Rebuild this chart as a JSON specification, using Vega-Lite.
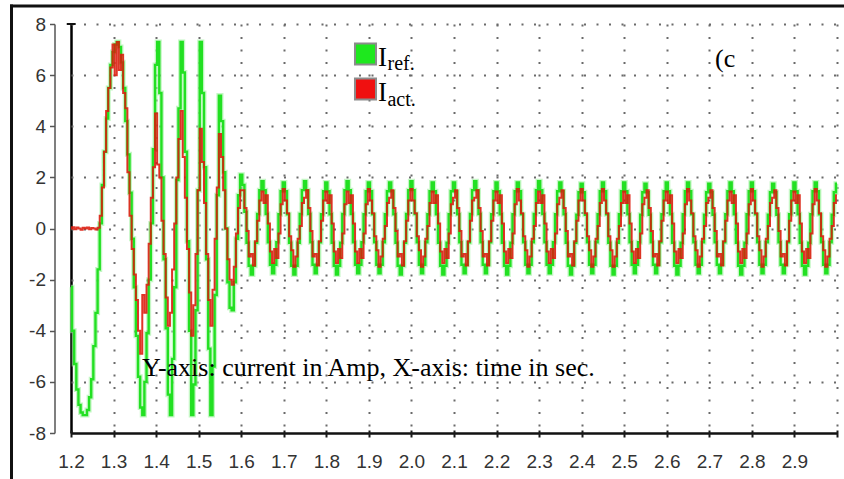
{
  "$schema": "https://vega.github.io/schema/vega-lite/v6.json",
  "width": 766,
  "height": 409,
  "autosize": {"type": "none"},
  "padding": {"left": 71, "top": 24, "right": 7, "bottom": 46},
  "background": "white",
  "config": {"view": {"stroke": null}},
  "datasets": {
    "wave": [
      {"t":1.2,"ref":-2.3,"act":0},{"t":1.205,"ref":-4.0,"act":0.05},{"t":1.21,"ref":-5.3,"act":-0.03},{"t":1.215,"ref":-6.3,"act":0.04},
      {"t":1.22,"ref":-6.9,"act":0},{"t":1.225,"ref":-7.2,"act":-0.05},{"t":1.23,"ref":-7.3,"act":0.03},{"t":1.235,"ref":-7.3,"act":0},
      {"t":1.24,"ref":-7.1,"act":0.04},{"t":1.245,"ref":-6.6,"act":-0.03},{"t":1.25,"ref":-5.9,"act":0.02},{"t":1.255,"ref":-4.6,"act":0},
      {"t":1.26,"ref":-3.3,"act":-0.04},{"t":1.265,"ref":-1.6,"act":0.03},{"t":1.27,"ref":0.2,"act":0.5},{"t":1.275,"ref":1.7,"act":1.6},
      {"t":1.28,"ref":3.0,"act":3.0},{"t":1.285,"ref":4.3,"act":4.6},{"t":1.29,"ref":5.5,"act":5.5},{"t":1.295,"ref":6.4,"act":6.3},
      {"t":1.3,"ref":6.9,"act":7.2},{"t":1.305,"ref":7.2,"act":6.0},{"t":1.31,"ref":7.3,"act":7.3},{"t":1.315,"ref":7.1,"act":6.2},
      {"t":1.32,"ref":6.5,"act":6.8},{"t":1.325,"ref":5.5,"act":5.3},{"t":1.33,"ref":4.2,"act":4.7},{"t":1.335,"ref":2.9,"act":2.2},
      {"t":1.34,"ref":1.4,"act":0.5},{"t":1.345,"ref":-0.4,"act":-0.8},{"t":1.35,"ref":-2.3,"act":-1.8},{"t":1.355,"ref":-4.2,"act":-2.8},
      {"t":1.36,"ref":-5.8,"act":-4.0},{"t":1.365,"ref":-7.0,"act":-4.9},{"t":1.37,"ref":-7.3,"act":-2.6},{"t":1.375,"ref":-6.0,"act":-3.3},
      {"t":1.38,"ref":-4.1,"act":-2.2},{"t":1.385,"ref":-2.0,"act":-0.6},{"t":1.39,"ref":0.2,"act":1.2},{"t":1.395,"ref":3.1,"act":2.4},
      {"t":1.4,"ref":6.4,"act":4.5},{"t":1.405,"ref":7.3,"act":2.5},{"t":1.41,"ref":5.3,"act":2.0},{"t":1.415,"ref":2.0,"act":0.3},
      {"t":1.42,"ref":-1.2,"act":-1.0},{"t":1.425,"ref":-3.9,"act":-2.7},{"t":1.43,"ref":-6.5,"act":-3.8},{"t":1.435,"ref":-7.3,"act":-3.3},
      {"t":1.44,"ref":-5.1,"act":-1.6},{"t":1.445,"ref":-2.3,"act":0.2},{"t":1.45,"ref":1.9,"act":2.0},{"t":1.455,"ref":4.7,"act":3.5},
      {"t":1.46,"ref":7.3,"act":4.6},{"t":1.465,"ref":6.1,"act":2.8},{"t":1.47,"ref":3.0,"act":1.2},{"t":1.475,"ref":-0.5,"act":-0.8},
      {"t":1.48,"ref":-4.0,"act":-2.5},{"t":1.485,"ref":-7.3,"act":-4.2},{"t":1.49,"ref":-6.1,"act":-3.0},{"t":1.495,"ref":-3.2,"act":-1.0},
      {"t":1.5,"ref":1.5,"act":1.5},{"t":1.505,"ref":7.3,"act":3.9},{"t":1.51,"ref":5.3,"act":2.6},{"t":1.515,"ref":2.4,"act":1.0},
      {"t":1.52,"ref":-1.2,"act":-1.0},{"t":1.525,"ref":-4.7,"act":-2.8},{"t":1.53,"ref":-7.3,"act":-3.8},{"t":1.535,"ref":-5.4,"act":-2.4},
      {"t":1.54,"ref":-2.6,"act":-0.4},{"t":1.545,"ref":1.3,"act":1.6},{"t":1.55,"ref":5.2,"act":3.7},{"t":1.555,"ref":4.2,"act":2.8},
      {"t":1.56,"ref":2.2,"act":1.5},{"t":1.565,"ref":0.0,"act":0.0},{"t":1.57,"ref":-2.1,"act":-1.2},{"t":1.575,"ref":-3.1,"act":-2.0},
      {"t":1.58,"ref":-3.2,"act":-2.2},{"t":1.585,"ref":-2.1,"act":-1.5},{"t":1.59,"ref":-0.4,"act":-0.2},{"t":1.595,"ref":1.3,"act":0.8},
      {"t":1.6,"ref":2.1,"act":1.5},
      {"t":1.605,"ref":1.7,"act":1.5},{"t":1.61,"ref":0.65,"act":0.8},{"t":1.615,"ref":-0.56,"act":-0.1},{"t":1.62,"ref":-1.46,"act":-1.1},{"t":1.625,"ref":-1.8,"act":-1.0},
      {"t":1.63,"ref":-1.46,"act":-1.45},{"t":1.635,"ref":-0.56,"act":-0.5},{"t":1.64,"ref":0.57,"act":0.3},{"t":1.645,"ref":1.5,"act":1.1},
      {"t":1.65,"ref":1.85,"act":1.45},{"t":1.655,"ref":1.5,"act":1.0},{"t":1.66,"ref":0.57,"act":1.3},{"t":1.665,"ref":-0.54,"act":0.2},{"t":1.67,"ref":-1.42,"act":-0.9},
      {"t":1.675,"ref":-1.75,"act":-1.35},{"t":1.68,"ref":-1.42,"act":-0.8},{"t":1.685,"ref":-0.54,"act":-1.15},{"t":1.69,"ref":0.56,"act":-0.2},{"t":1.695,"ref":1.46,"act":0.95},
      {"t":1.7,"ref":1.8,"act":1.55},{"t":1.705,"ref":1.46,"act":1.1},{"t":1.71,"ref":0.56,"act":0.6},{"t":1.715,"ref":-0.56,"act":-0.3},{"t":1.72,"ref":-1.46,"act":-0.85},
      {"t":1.725,"ref":-1.8,"act":-1.5},{"t":1.73,"ref":-1.46,"act":-1.1},{"t":1.735,"ref":-0.56,"act":-0.4},{"t":1.74,"ref":0.57,"act":0.1},{"t":1.745,"ref":1.5,"act":1.0},
      {"t":1.75,"ref":1.85,"act":1.2},{"t":1.755,"ref":1.5,"act":1.5},{"t":1.76,"ref":0.57,"act":0.8},{"t":1.765,"ref":-0.54,"act":-0.1},{"t":1.77,"ref":-1.42,"act":-1.1},
      {"t":1.775,"ref":-1.75,"act":-1.0},{"t":1.78,"ref":-1.42,"act":-1.45},{"t":1.785,"ref":-0.54,"act":-0.5},{"t":1.79,"ref":0.56,"act":0.3},{"t":1.795,"ref":1.46,"act":1.1},
      {"t":1.8,"ref":1.8,"act":1.45},{"t":1.805,"ref":1.46,"act":1.0},{"t":1.81,"ref":0.56,"act":1.3},{"t":1.815,"ref":-0.56,"act":0.2},{"t":1.82,"ref":-1.46,"act":-0.9},
      {"t":1.825,"ref":-1.8,"act":-1.35},{"t":1.83,"ref":-1.46,"act":-0.8},{"t":1.835,"ref":-0.56,"act":-1.15},{"t":1.84,"ref":0.57,"act":-0.2},{"t":1.845,"ref":1.5,"act":0.95},
      {"t":1.85,"ref":1.85,"act":1.45},{"t":1.855,"ref":1.5,"act":1.0},{"t":1.86,"ref":0.57,"act":1.3},{"t":1.865,"ref":-0.54,"act":0.2},{"t":1.87,"ref":-1.42,"act":-0.9},
      {"t":1.875,"ref":-1.75,"act":-1.35},{"t":1.88,"ref":-1.42,"act":-0.8},{"t":1.885,"ref":-0.54,"act":-1.15},{"t":1.89,"ref":0.56,"act":-0.2},{"t":1.895,"ref":1.46,"act":0.95},
      {"t":1.9,"ref":1.8,"act":1.55},{"t":1.905,"ref":1.46,"act":1.1},{"t":1.91,"ref":0.56,"act":0.6},{"t":1.915,"ref":-0.54,"act":-0.3},{"t":1.92,"ref":-1.42,"act":-0.85},
      {"t":1.925,"ref":-1.75,"act":-1.5},{"t":1.93,"ref":-1.42,"act":-1.1},{"t":1.935,"ref":-0.54,"act":-0.4},{"t":1.94,"ref":0.56,"act":0.1},{"t":1.945,"ref":1.46,"act":1.0},
      {"t":1.95,"ref":1.8,"act":1.2},{"t":1.955,"ref":1.46,"act":1.5},{"t":1.96,"ref":0.56,"act":0.8},{"t":1.965,"ref":-0.56,"act":-0.1},{"t":1.97,"ref":-1.46,"act":-1.1},
      {"t":1.975,"ref":-1.8,"act":-1.0},{"t":1.98,"ref":-1.46,"act":-1.45},{"t":1.985,"ref":-0.56,"act":-0.5},{"t":1.99,"ref":0.57,"act":0.3},{"t":1.995,"ref":1.5,"act":1.1},
      {"t":2.0,"ref":1.85,"act":1.55},{"t":2.005,"ref":1.5,"act":1.1},{"t":2.01,"ref":0.57,"act":0.6},{"t":2.015,"ref":-0.54,"act":-0.3},{"t":2.02,"ref":-1.42,"act":-0.85},
      {"t":2.025,"ref":-1.75,"act":-1.5},{"t":2.03,"ref":-1.42,"act":-1.1},{"t":2.035,"ref":-0.54,"act":-0.4},{"t":2.04,"ref":0.56,"act":0.1},{"t":2.045,"ref":1.46,"act":1.0},
      {"t":2.05,"ref":1.8,"act":1.45},{"t":2.055,"ref":1.46,"act":1.0},{"t":2.06,"ref":0.56,"act":1.3},{"t":2.065,"ref":-0.56,"act":0.2},{"t":2.07,"ref":-1.46,"act":-0.9},
      {"t":2.075,"ref":-1.8,"act":-1.35},{"t":2.08,"ref":-1.46,"act":-0.8},{"t":2.085,"ref":-0.56,"act":-1.15},{"t":2.09,"ref":0.56,"act":-0.2},{"t":2.095,"ref":1.46,"act":0.95},
      {"t":2.1,"ref":1.8,"act":1.2},{"t":2.105,"ref":1.46,"act":1.5},{"t":2.11,"ref":0.56,"act":0.8},{"t":2.115,"ref":-0.54,"act":-0.1},{"t":2.12,"ref":-1.42,"act":-1.1},
      {"t":2.125,"ref":-1.75,"act":-1.0},{"t":2.13,"ref":-1.42,"act":-1.45},{"t":2.135,"ref":-0.54,"act":-0.5},{"t":2.14,"ref":0.57,"act":0.3},{"t":2.145,"ref":1.5,"act":1.1},
      {"t":2.15,"ref":1.85,"act":1.2},{"t":2.155,"ref":1.5,"act":1.5},{"t":2.16,"ref":0.57,"act":0.8},{"t":2.165,"ref":-0.54,"act":-0.1},{"t":2.17,"ref":-1.42,"act":-1.1},
      {"t":2.175,"ref":-1.75,"act":-1.0},{"t":2.18,"ref":-1.42,"act":-1.45},{"t":2.185,"ref":-0.54,"act":-0.5},{"t":2.19,"ref":0.56,"act":0.3},{"t":2.195,"ref":1.46,"act":1.1},
      {"t":2.2,"ref":1.8,"act":1.45},{"t":2.205,"ref":1.46,"act":1.0},{"t":2.21,"ref":0.56,"act":1.3},{"t":2.215,"ref":-0.56,"act":0.2},{"t":2.22,"ref":-1.46,"act":-0.9},
      {"t":2.225,"ref":-1.8,"act":-1.35},{"t":2.23,"ref":-1.46,"act":-0.8},{"t":2.235,"ref":-0.56,"act":-1.15},{"t":2.24,"ref":0.56,"act":-0.2},{"t":2.245,"ref":1.46,"act":0.95},
      {"t":2.25,"ref":1.8,"act":1.55},{"t":2.255,"ref":1.46,"act":1.1},{"t":2.26,"ref":0.56,"act":0.6},{"t":2.265,"ref":-0.54,"act":-0.3},{"t":2.27,"ref":-1.42,"act":-0.85},
      {"t":2.275,"ref":-1.75,"act":-1.5},{"t":2.28,"ref":-1.42,"act":-1.1},{"t":2.285,"ref":-0.54,"act":-0.4},{"t":2.29,"ref":0.57,"act":0.1},{"t":2.295,"ref":1.5,"act":1.0},
      {"t":2.3,"ref":1.85,"act":1.45},{"t":2.305,"ref":1.5,"act":1.0},{"t":2.31,"ref":0.57,"act":1.3},{"t":2.315,"ref":-0.54,"act":0.2},{"t":2.32,"ref":-1.42,"act":-0.9},
      {"t":2.325,"ref":-1.75,"act":-1.35},{"t":2.33,"ref":-1.42,"act":-0.8},{"t":2.335,"ref":-0.54,"act":-1.15},{"t":2.34,"ref":0.56,"act":-0.2},{"t":2.345,"ref":1.46,"act":0.95},
      {"t":2.35,"ref":1.8,"act":1.2},{"t":2.355,"ref":1.46,"act":1.5},{"t":2.36,"ref":0.56,"act":0.8},{"t":2.365,"ref":-0.56,"act":-0.1},{"t":2.37,"ref":-1.46,"act":-1.1},
      {"t":2.375,"ref":-1.8,"act":-1.0},{"t":2.38,"ref":-1.46,"act":-1.45},{"t":2.385,"ref":-0.56,"act":-0.5},{"t":2.39,"ref":0.54,"act":0.3},{"t":2.395,"ref":1.42,"act":1.1},
      {"t":2.4,"ref":1.75,"act":1.55},{"t":2.405,"ref":1.42,"act":1.1},{"t":2.41,"ref":0.54,"act":0.6},{"t":2.415,"ref":-0.54,"act":-0.3},{"t":2.42,"ref":-1.42,"act":-0.85},
      {"t":2.425,"ref":-1.75,"act":-1.5},{"t":2.43,"ref":-1.42,"act":-1.1},{"t":2.435,"ref":-0.54,"act":-0.4},{"t":2.44,"ref":0.56,"act":0.1},{"t":2.445,"ref":1.46,"act":1.0},
      {"t":2.45,"ref":1.8,"act":1.55},{"t":2.455,"ref":1.46,"act":1.1},{"t":2.46,"ref":0.56,"act":0.6},{"t":2.465,"ref":-0.56,"act":-0.3},{"t":2.47,"ref":-1.46,"act":-0.85},
      {"t":2.475,"ref":-1.8,"act":-1.5},{"t":2.48,"ref":-1.46,"act":-1.1},{"t":2.485,"ref":-0.56,"act":-0.4},{"t":2.49,"ref":0.56,"act":0.1},{"t":2.495,"ref":1.46,"act":1.0},
      {"t":2.5,"ref":1.8,"act":1.45},{"t":2.505,"ref":1.46,"act":1.0},{"t":2.51,"ref":0.56,"act":1.3},{"t":2.515,"ref":-0.54,"act":0.2},{"t":2.52,"ref":-1.42,"act":-0.9},
      {"t":2.525,"ref":-1.75,"act":-1.35},{"t":2.53,"ref":-1.42,"act":-0.8},{"t":2.535,"ref":-0.54,"act":-1.15},{"t":2.54,"ref":0.54,"act":-0.2},{"t":2.545,"ref":1.42,"act":0.95},
      {"t":2.55,"ref":1.75,"act":1.2},{"t":2.555,"ref":1.42,"act":1.5},{"t":2.56,"ref":0.54,"act":0.8},{"t":2.565,"ref":-0.54,"act":-0.1},{"t":2.57,"ref":-1.42,"act":-1.1},
      {"t":2.575,"ref":-1.75,"act":-1.0},{"t":2.58,"ref":-1.42,"act":-1.45},{"t":2.585,"ref":-0.54,"act":-0.5},{"t":2.59,"ref":0.56,"act":0.3},{"t":2.595,"ref":1.46,"act":1.1},
      {"t":2.6,"ref":1.8,"act":1.45},{"t":2.605,"ref":1.46,"act":1.0},{"t":2.61,"ref":0.56,"act":1.3},{"t":2.615,"ref":-0.56,"act":0.2},{"t":2.62,"ref":-1.46,"act":-0.9},
      {"t":2.625,"ref":-1.8,"act":-1.35},{"t":2.63,"ref":-1.46,"act":-0.8},{"t":2.635,"ref":-0.56,"act":-1.15},{"t":2.64,"ref":0.56,"act":-0.2},{"t":2.645,"ref":1.46,"act":0.95},
      {"t":2.65,"ref":1.8,"act":1.55},{"t":2.655,"ref":1.46,"act":1.1},{"t":2.66,"ref":0.56,"act":0.6},{"t":2.665,"ref":-0.54,"act":-0.3},{"t":2.67,"ref":-1.42,"act":-0.85},
      {"t":2.675,"ref":-1.75,"act":-1.5},{"t":2.68,"ref":-1.42,"act":-1.1},{"t":2.685,"ref":-0.54,"act":-0.4},{"t":2.69,"ref":0.54,"act":0.1},{"t":2.695,"ref":1.42,"act":1.0},
      {"t":2.7,"ref":1.75,"act":1.2},{"t":2.705,"ref":1.42,"act":1.5},{"t":2.71,"ref":0.54,"act":0.8},{"t":2.715,"ref":-0.54,"act":-0.1},{"t":2.72,"ref":-1.42,"act":-1.1},
      {"t":2.725,"ref":-1.75,"act":-1.0},{"t":2.73,"ref":-1.42,"act":-1.45},{"t":2.735,"ref":-0.54,"act":-0.5},{"t":2.74,"ref":0.56,"act":0.3},{"t":2.745,"ref":1.46,"act":1.1},
      {"t":2.75,"ref":1.8,"act":1.45},{"t":2.755,"ref":1.46,"act":1.0},{"t":2.76,"ref":0.56,"act":1.3},{"t":2.765,"ref":-0.56,"act":0.2},{"t":2.77,"ref":-1.46,"act":-0.9},
      {"t":2.775,"ref":-1.8,"act":-1.35},{"t":2.78,"ref":-1.46,"act":-0.8},{"t":2.785,"ref":-0.56,"act":-1.15},{"t":2.79,"ref":0.56,"act":-0.2},{"t":2.795,"ref":1.46,"act":0.95},
      {"t":2.8,"ref":1.8,"act":1.55},{"t":2.805,"ref":1.46,"act":1.1},{"t":2.81,"ref":0.56,"act":0.6},{"t":2.815,"ref":-0.54,"act":-0.3},{"t":2.82,"ref":-1.42,"act":-0.85},
      {"t":2.825,"ref":-1.75,"act":-1.5},{"t":2.83,"ref":-1.42,"act":-1.1},{"t":2.835,"ref":-0.54,"act":-0.4},{"t":2.84,"ref":0.54,"act":0.1},{"t":2.845,"ref":1.42,"act":1.0},
      {"t":2.85,"ref":1.75,"act":1.2},{"t":2.855,"ref":1.42,"act":1.5},{"t":2.86,"ref":0.54,"act":0.8},{"t":2.865,"ref":-0.54,"act":-0.1},{"t":2.87,"ref":-1.42,"act":-1.1},
      {"t":2.875,"ref":-1.75,"act":-1.0},{"t":2.88,"ref":-1.42,"act":-1.45},{"t":2.885,"ref":-0.54,"act":-0.5},{"t":2.89,"ref":0.56,"act":0.3},{"t":2.895,"ref":1.46,"act":1.1},
      {"t":2.9,"ref":1.8,"act":1.45},{"t":2.905,"ref":1.46,"act":1.0},{"t":2.91,"ref":0.56,"act":1.3},{"t":2.915,"ref":-0.56,"act":0.2},{"t":2.92,"ref":-1.46,"act":-0.9},
      {"t":2.925,"ref":-1.8,"act":-1.35},{"t":2.93,"ref":-1.46,"act":-0.8},{"t":2.935,"ref":-0.56,"act":-1.15},{"t":2.94,"ref":0.56,"act":-0.2},{"t":2.945,"ref":1.46,"act":0.95},
      {"t":2.95,"ref":1.8,"act":1.55},{"t":2.955,"ref":1.46,"act":1.1},{"t":2.96,"ref":0.56,"act":0.6},{"t":2.965,"ref":-0.54,"act":-0.3},{"t":2.97,"ref":-1.42,"act":-0.85},
      {"t":2.975,"ref":-1.75,"act":-1.5},{"t":2.98,"ref":-1.42,"act":-1.1},{"t":2.985,"ref":-0.54,"act":-0.4},{"t":2.99,"ref":0.54,"act":0.1},{"t":2.995,"ref":1.42,"act":1.0},
      {"t":3.0,"ref":1.75,"act":1.3}
    ]
  },
  "layer": [
    {
      "data": {"name": "wave"},
      "mark": {"type": "line", "interpolate": "step", "color": "#9cf29c", "strokeWidth": 5, "opacity": 0.6},
      "encoding": {
        "x": {
          "field": "t", "type": "quantitative",
          "scale": {"domain": [1.2, 3.0], "nice": false, "zero": false},
          "axis": {
            "title": null,
            "values": [1.2,1.25,1.3,1.35,1.4,1.45,1.5,1.55,1.6,1.65,1.7,1.75,1.8,1.85,1.9,1.95,2.0,2.05,2.1,2.15,2.2,2.25,2.3,2.35,2.4,2.45,2.5,2.55,2.6,2.65,2.7,2.75,2.8,2.85,2.9,2.95,3.0],
            "domain": false,
            "offset": -3,
            "tickSize": 7,
            "tickWidth": 2,
            "tickColor": "#1a1a1a",
            "labelExpr": "round(datum.value * 20) % 2 === 0 && datum.value < 2.95 ? format(datum.value, '.1f') : ''",
            "labelFont": "Liberation Sans",
            "labelFontSize": 19,
            "labelColor": "#333333",
            "labelPadding": 15,
            "labelOverlap": false,
            "labelFlush": false,
            "labelBound": false,
            "grid": true,
            "gridColor": {"condition": {"test": "datum.value === 1.2", "value": "#000000"}, "value": "#6a6a6a"},
            "gridDash": {"condition": {"test": "datum.value === 1.2", "value": []}, "value": [2, 10.5]},
            "gridWidth": {"condition": {"test": "datum.value === 1.2", "value": 2.5}, "value": 2},
            "gridOpacity": {"condition": {"test": "round(datum.value * 20) % 2 === 1", "value": 0}, "value": 1}
          }
        },
        "y": {
          "field": "ref", "type": "quantitative",
          "scale": {"domain": [-8, 8], "nice": false, "zero": false},
          "axis": {
            "title": null,
            "values": [-8,-7,-6,-5,-4,-3,-2,-1,0,1,2,3,4,5,6,7,8],
            "domain": true,
            "domainColor": "#555555",
            "domainWidth": 1.5,
            "offset": 16.5,
            "tickSize": 5,
            "tickWidth": 1.5,
            "tickColor": "#555555",
            "labelExpr": "datum.value % 2 === 0 ? '' + datum.value : ''",
            "labelFont": "Liberation Sans",
            "labelFontSize": 19,
            "labelColor": "#333333",
            "labelPadding": 4,
            "labelOverlap": false,
            "labelBound": false,
            "grid": true,
            "gridColor": {"condition": {"test": "datum.value === -8", "value": "#111111"}, "value": "#6a6a6a"},
            "gridDash": {"condition": {"test": "datum.value === -8", "value": []}, "value": [2, 10.5]},
            "gridWidth": {"condition": {"test": "datum.value === -8", "value": 2.5}, "value": 2},
            "gridOpacity": {"condition": {"test": "datum.value % 2 !== 0", "value": 0}, "value": 1}
          }
        }
      }
    },
    {
      "data": {"name": "wave"},
      "mark": {"type": "line", "interpolate": "step", "color": "#22e022", "strokeWidth": 2.4},
      "encoding": {
        "x": {"field": "t", "type": "quantitative", "axis": {"title": null}},
        "y": {"field": "ref", "type": "quantitative", "axis": {"title": null}}
      }
    },
    {
      "data": {"name": "wave"},
      "mark": {"type": "line", "interpolate": "step", "color": "#dc180a", "strokeWidth": 2, "opacity": 0.88},
      "encoding": {
        "x": {"field": "t", "type": "quantitative", "axis": {"title": null}},
        "y": {"field": "act", "type": "quantitative", "axis": {"title": null}}
      }
    },
    {
      "data": {"values": [{}]},
      "mark": {"type": "rule", "color": "#111111", "strokeWidth": 2},
      "encoding": {
        "x": {"datum": 1.19, "type": "quantitative", "axis": {"title": null}},
        "x2": {"datum": 1.211},
        "y": {"datum": 8, "type": "quantitative", "axis": {"title": null}}
      }
    },
    {
      "data": {"values": [{}]},
      "mark": {"type": "rule", "color": "#111111", "strokeWidth": 3, "strokeCap": "square"},
      "encoding": {
        "x": {"datum": 1.0602, "type": "quantitative", "axis": {"title": null}},
        "y": {"datum": 8.704, "type": "quantitative", "axis": {"title": null}},
        "y2": {"datum": -10}
      }
    },
    {
      "data": {"values": [{}]},
      "mark": {"type": "rule", "color": "#111111", "strokeWidth": 3, "strokeCap": "square"},
      "encoding": {
        "x": {"datum": 1.0602, "type": "quantitative", "axis": {"title": null}},
        "x2": {"datum": 3.1},
        "y": {"datum": 8.704, "type": "quantitative", "axis": {"title": null}}
      }
    },
    {
      "data": {"values": [{}]},
      "mark": {"type": "point", "shape": "square", "filled": true, "size": 441, "color": "#1ee81e", "stroke": "#8c8c8c", "strokeWidth": 2, "opacity": 1},
      "encoding": {
        "x": {"datum": 1.892, "type": "quantitative", "axis": {"title": null}},
        "y": {"datum": 6.826, "type": "quantitative", "axis": {"title": null}}
      }
    },
    {
      "data": {"values": [{}]},
      "mark": {"type": "point", "shape": "square", "filled": true, "size": 441, "color": "#f01010", "stroke": "#8c8c8c", "strokeWidth": 2, "opacity": 1},
      "encoding": {
        "x": {"datum": 1.892, "type": "quantitative", "axis": {"title": null}},
        "y": {"datum": 5.457, "type": "quantitative", "axis": {"title": null}}
      }
    },
    {
      "data": {"values": [{}]},
      "mark": {"type": "text", "text": "I", "font": "Liberation Serif", "fontSize": 27, "align": "left", "baseline": "alphabetic", "color": "#000000"},
      "encoding": {
        "x": {"datum": 1.9214, "type": "quantitative", "axis": {"title": null}},
        "y": {"datum": 6.3765, "type": "quantitative", "axis": {"title": null}}
      }
    },
    {
      "data": {"values": [{}]},
      "mark": {"type": "text", "text": "ref.", "font": "Liberation Serif", "fontSize": 20, "align": "left", "baseline": "alphabetic", "color": "#000000"},
      "encoding": {
        "x": {"datum": 1.9437, "type": "quantitative", "axis": {"title": null}},
        "y": {"datum": 6.181, "type": "quantitative", "axis": {"title": null}}
      }
    },
    {
      "data": {"values": [{}]},
      "mark": {"type": "text", "text": "I", "font": "Liberation Serif", "fontSize": 27, "align": "left", "baseline": "alphabetic", "color": "#000000"},
      "encoding": {
        "x": {"datum": 1.9214, "type": "quantitative", "axis": {"title": null}},
        "y": {"datum": 5.0073, "type": "quantitative", "axis": {"title": null}}
      }
    },
    {
      "data": {"values": [{}]},
      "mark": {"type": "text", "text": "act.", "font": "Liberation Serif", "fontSize": 20, "align": "left", "baseline": "alphabetic", "color": "#000000"},
      "encoding": {
        "x": {"datum": 1.9437, "type": "quantitative", "axis": {"title": null}},
        "y": {"datum": 4.804, "type": "quantitative", "axis": {"title": null}}
      }
    },
    {
      "data": {"values": [{}]},
      "mark": {"type": "text", "text": "(c", "font": "Liberation Serif", "fontSize": 26, "align": "left", "baseline": "alphabetic", "color": "#000000"},
      "encoding": {
        "x": {"datum": 2.7133, "type": "quantitative", "axis": {"title": null}},
        "y": {"datum": 6.337, "type": "quantitative", "axis": {"title": null}}
      }
    },
    {
      "data": {"values": [{}]},
      "mark": {"type": "text", "text": "Y-axis: current in Amp, X-axis: time in sec.", "font": "Liberation Serif", "fontSize": 26, "align": "left", "baseline": "alphabetic", "color": "#000000"},
      "encoding": {
        "x": {"datum": 1.3668, "type": "quantitative", "axis": {"title": null}},
        "y": {"datum": -5.759, "type": "quantitative", "axis": {"title": null}}
      }
    }
  ]
}
